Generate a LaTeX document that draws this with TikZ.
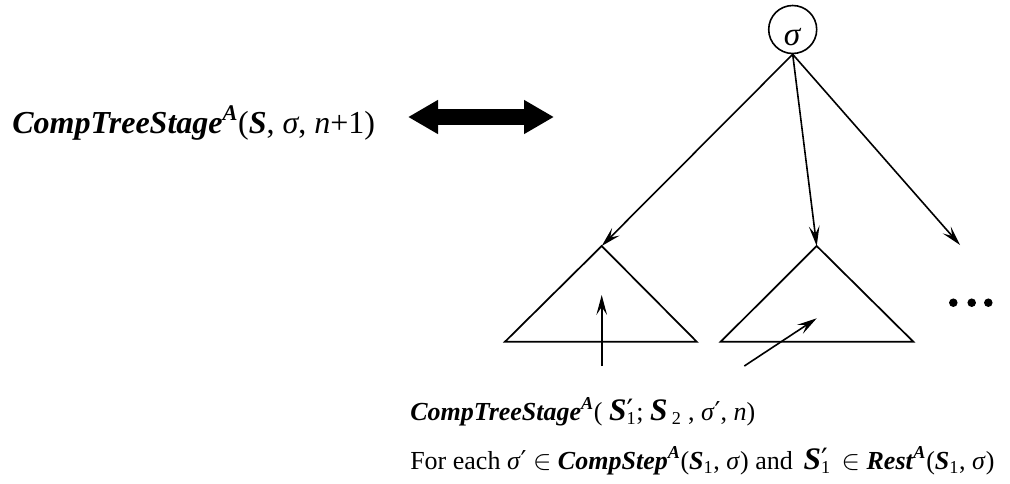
\documentclass[tikz,border=0pt]{standalone}
\usepackage{fontspec}
\setmainfont{Liberation Serif}
\newfontfamily\symfont{DejaVu Serif}
\usetikzlibrary{arrows.meta, positioning}

\newcommand{\bi}[1]{\textbf{\textit{#1}}}
\newcommand{\bigS}{{\fontsize{23.5}{24}\selectfont\bi{S}}}
\newcommand{\prm}{{\symfont\char"2032}}
\newcommand{\bigSp}{\bigS\rlap{\fontsize{22}{22}\selectfont\prm}}

\begin{document}
\begin{tikzpicture}[x=0.75pt, y=-0.75pt,
  tree arrow/.style={line width=1.2pt, -{Stealth[length=15pt, width=8pt, inset=6pt]}},
  big arrow/.style={line width=12pt, {Triangle[length=22.5pt, width=24pt]}-{Triangle[length=22.5pt, width=24pt]}}]
\useasboundingbox (0,0) rectangle (1010,483);

% left side
\node[anchor=base west, inner sep=0] (stage) at (12,133)
  {\fontsize{24}{28}\selectfont\bi{CompTreeStage}\textsuperscript{\bi{A}}(\bi{S}, \textit{σ}, \textit{n}+1)};
\coordinate (bl) at (408,117);
\coordinate (br) at (554,117);
\draw[big arrow] (bl) -- (br);

% root
\node[circle, draw, line width=1.2pt, minimum size=36pt, inner sep=0] (root) at (792.7,29.5) {};
\node[inner sep=0] (rootlab) at (792.7,37) {\fontsize{25}{25}\selectfont\textit{σ}};

% subtrees
\coordinate (t1) at (601.7,246);
\coordinate (t2) at (816.7,246);
\coordinate (t3) at (960,245);
\draw[line width=1.3pt] (t1) -- (505,341.7) -- (696.7,341.7) -- cycle;
\draw[line width=1.3pt] (t2) -- (720.7,341.7) -- (913.3,341.7) -- cycle;

\draw[tree arrow] (root.south) -- (t1);
\draw[tree arrow] (root.south) -- (t2);
\draw[tree arrow] (root.south) -- (t3);

\foreach \x in {953.3,971.7,988.3}
  \fill (\x,302.7) circle (3.2pt);

% recursive calls
\coordinate (u0) at (601.7,366);
\coordinate (u1) at (601.7,295);
\coordinate (v0) at (744.3,366);
\coordinate (v1) at (816.7,318.3);
\draw[tree arrow] (u0) -- (u1);
\draw[tree arrow] (v0) -- (v1);

\node[anchor=base west, inner sep=0] (call) at (410,420)
  {\fontsize{19.5}{24}\selectfont\bi{CompTreeStage}\textsuperscript{\bi{A}}( \bigSp\textsubscript{1}; \bigS\,\textsubscript{2} , \textit{σ}\prm, \textit{n})};
\node[anchor=base west, inner sep=0] (cond) at (410,469)
  {\fontsize{19.5}{24}\selectfont For each \textit{σ}\prm{} $\in$ \bi{CompStep}\textsuperscript{\bi{A}}(\bi{S}\textsubscript{1}, \textit{σ}) and \,\bigSp\textsubscript{1}\ \,$\in$ \bi{Rest}\textsuperscript{\bi{A}}(\bi{S}\textsubscript{1}, \textit{σ})};
\end{tikzpicture}
\end{document}
